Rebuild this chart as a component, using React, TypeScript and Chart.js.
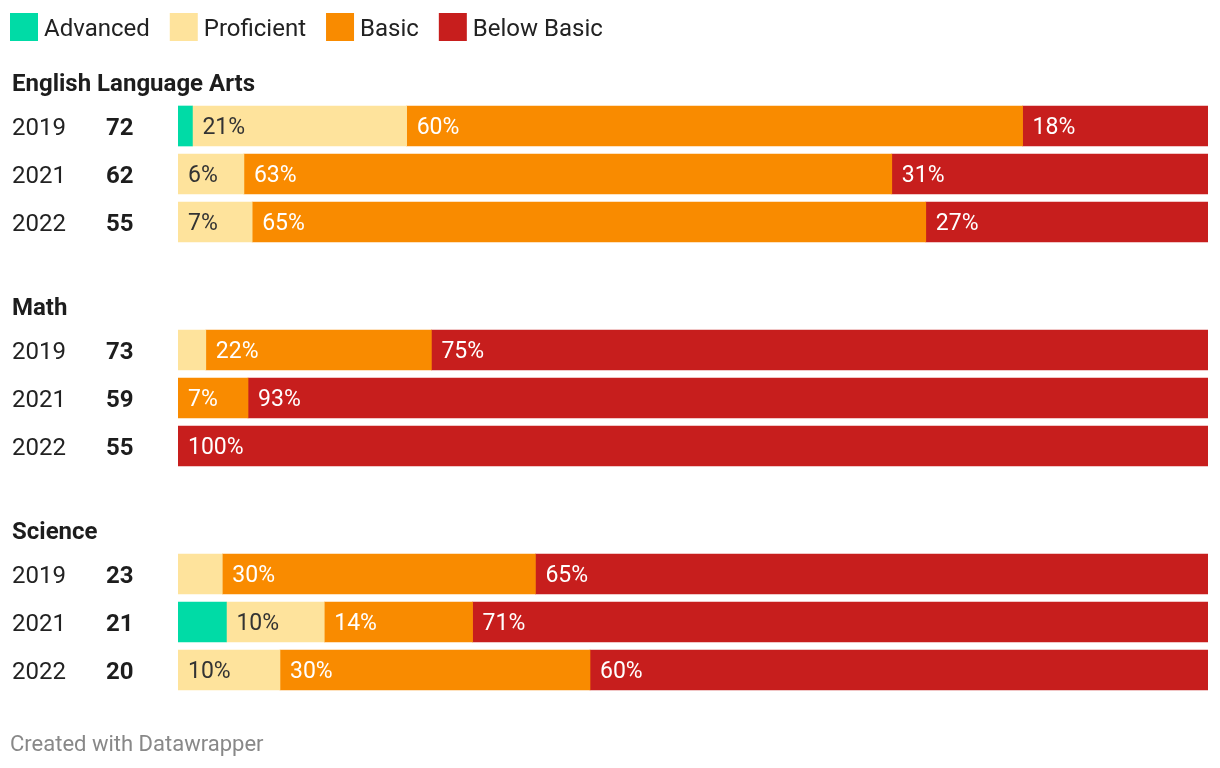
import React, { useEffect, useRef } from "react";
import { Chart, registerables } from "chart.js";

Chart.register(...registerables);

// ---- data ----
const subjects = ["English Language Arts", "Math", "Science"];
const years = ["2019", "2021", "2022"];
const scores = [
  [72, 62, 55],
  [73, 59, 55],
  [23, 21, 20],
];
const seriesNames = ["Advanced", "Proficient", "Basic", "Below Basic"];
// rows: ELA 2019, 2021, 2022, Math 2019, 2021, 2022, Science 2019, 2021, 2022
const advanced = [1.4, 0, 0, 0, 0, 0, 0, 4.7, 0];
const proficient = [20.8, 6.4, 7.2, 2.7, 0, 0, 4.3, 9.5, 9.9];
const basic = [59.8, 62.9, 65.4, 21.9, 6.8, 0, 30.4, 14.4, 30.1];
const belowBasic = [18.0, 30.7, 27.4, 75.4, 93.2, 100, 65.3, 71.4, 60.0];
const footerText = "Created with Datawrapper";

const colors = ["#00dba6", "#fee39c", "#f98b00", "#c71e1d"];
const labelColors = ["#333333", "#333333", "#ffffff", "#ffffff"];
const FONT = "Roboto, 'Noto Sans', sans-serif";

// layout helpers (in y-scale units: 1 unit = 16px)
const GROUP_STEP = 14;
const ROW_STEP = 3;
const HEADER_OFFSET = 2.75;
const rowPos = (g: number, r: number) => g * GROUP_STEP + r * ROW_STEP;

export default function App() {
  const ref = useRef<HTMLCanvasElement | null>(null);

  useEffect(() => {
    document.body.style.margin = "0";
    const canvas = ref.current;
    if (!canvas) return;

    const series = [advanced, proficient, basic, belowBasic];
    const positions: number[] = [];
    subjects.forEach((_, g) => years.forEach((_, r) => positions.push(rowPos(g, r))));

    const datasets = series.map((vals, si) => ({
      label: seriesNames[si],
      data: vals.map((v, i) => ({ x: v === 0 ? null : v, y: positions[i] })),
      backgroundColor: colors[si],
      borderWidth: 0,
      barThickness: 40,
    }));

    const textPlugin = {
      id: "dwText",
      afterDatasetsDraw(chart: any) {
        const ctx = chart.ctx;
        ctx.save();
        ctx.font = `23px ${FONT}`;
        ctx.textAlign = "left";
        ctx.textBaseline = "alphabetic";
        chart.data.datasets.forEach((ds: any, si: number) => {
          const meta = chart.getDatasetMeta(si);
          meta.data.forEach((el: any, i: number) => {
            const v = ds.data[i].x;
            if (v == null || v < 5) return;
            const left = Math.min(el.base, el.x);
            ctx.fillStyle = labelColors[si];
            ctx.fillText(`${Math.round(v)}%`, left + 10, el.y + 8.2);
          });
        });
        ctx.restore();
      },
      afterDraw(chart: any) {
        const ctx = chart.ctx;
        const yScale = chart.scales.y;
        ctx.save();
        ctx.textAlign = "left";
        ctx.textBaseline = "alphabetic";

        // legend
        ctx.font = `24px ${FONT}`;
        let lx = 10;
        chart.data.datasets.forEach((ds: any) => {
          ctx.fillStyle = ds.backgroundColor;
          ctx.fillRect(lx, 13, 28, 28);
          ctx.fillStyle = "#222222";
          ctx.fillText(ds.label, lx + 34, 35.5);
          lx += 34 + ctx.measureText(ds.label).width + 20;
        });

        // group headers, years, scores
        subjects.forEach((name, g) => {
          const hy = yScale.getPixelForValue(rowPos(g, 0) - HEADER_OFFSET);
          ctx.font = `bold 24px ${FONT}`;
          ctx.fillStyle = "#1d1d1d";
          ctx.fillText(name, 12, hy + 8.5);
          years.forEach((yr, r) => {
            const py = yScale.getPixelForValue(rowPos(g, r));
            ctx.font = `24px ${FONT}`;
            ctx.fillStyle = "#222222";
            ctx.fillText(yr, 12, py + 8.5);
            ctx.font = `bold 24px ${FONT}`;
            ctx.fillStyle = "#1d1d1d";
            ctx.fillText(String(scores[g][r]), 106, py + 8.5);
          });
        });

        // footer
        ctx.font = `22px ${FONT}`;
        ctx.fillStyle = "#888888";
        ctx.fillText(footerText, 10, 750.8);
        ctx.restore();
      },
    };

    const chart = new Chart(canvas, {
      type: "bar",
      data: { datasets } as any,
      options: {
        indexAxis: "y",
        responsive: false,
        animation: false,
        devicePixelRatio: 1,
        layout: { padding: { left: 178, right: 12, top: 30, bottom: 66 } },
        scales: {
          x: { type: "linear", min: 0, max: 100, stacked: true, display: false, offset: false },
          y: { type: "linear", min: -6, max: 36, reverse: true, stacked: true, display: false, offset: false },
        },
        plugins: {
          legend: { display: false },
          tooltip: { enabled: false },
        },
      } as any,
      plugins: [textPlugin],
    });

    return () => chart.destroy();
  }, []);

  return (
    <div style={{ width: 1220, height: 768, background: "#ffffff" }}>
      <canvas ref={ref} width={1220} height={768} />
    </div>
  );
}
